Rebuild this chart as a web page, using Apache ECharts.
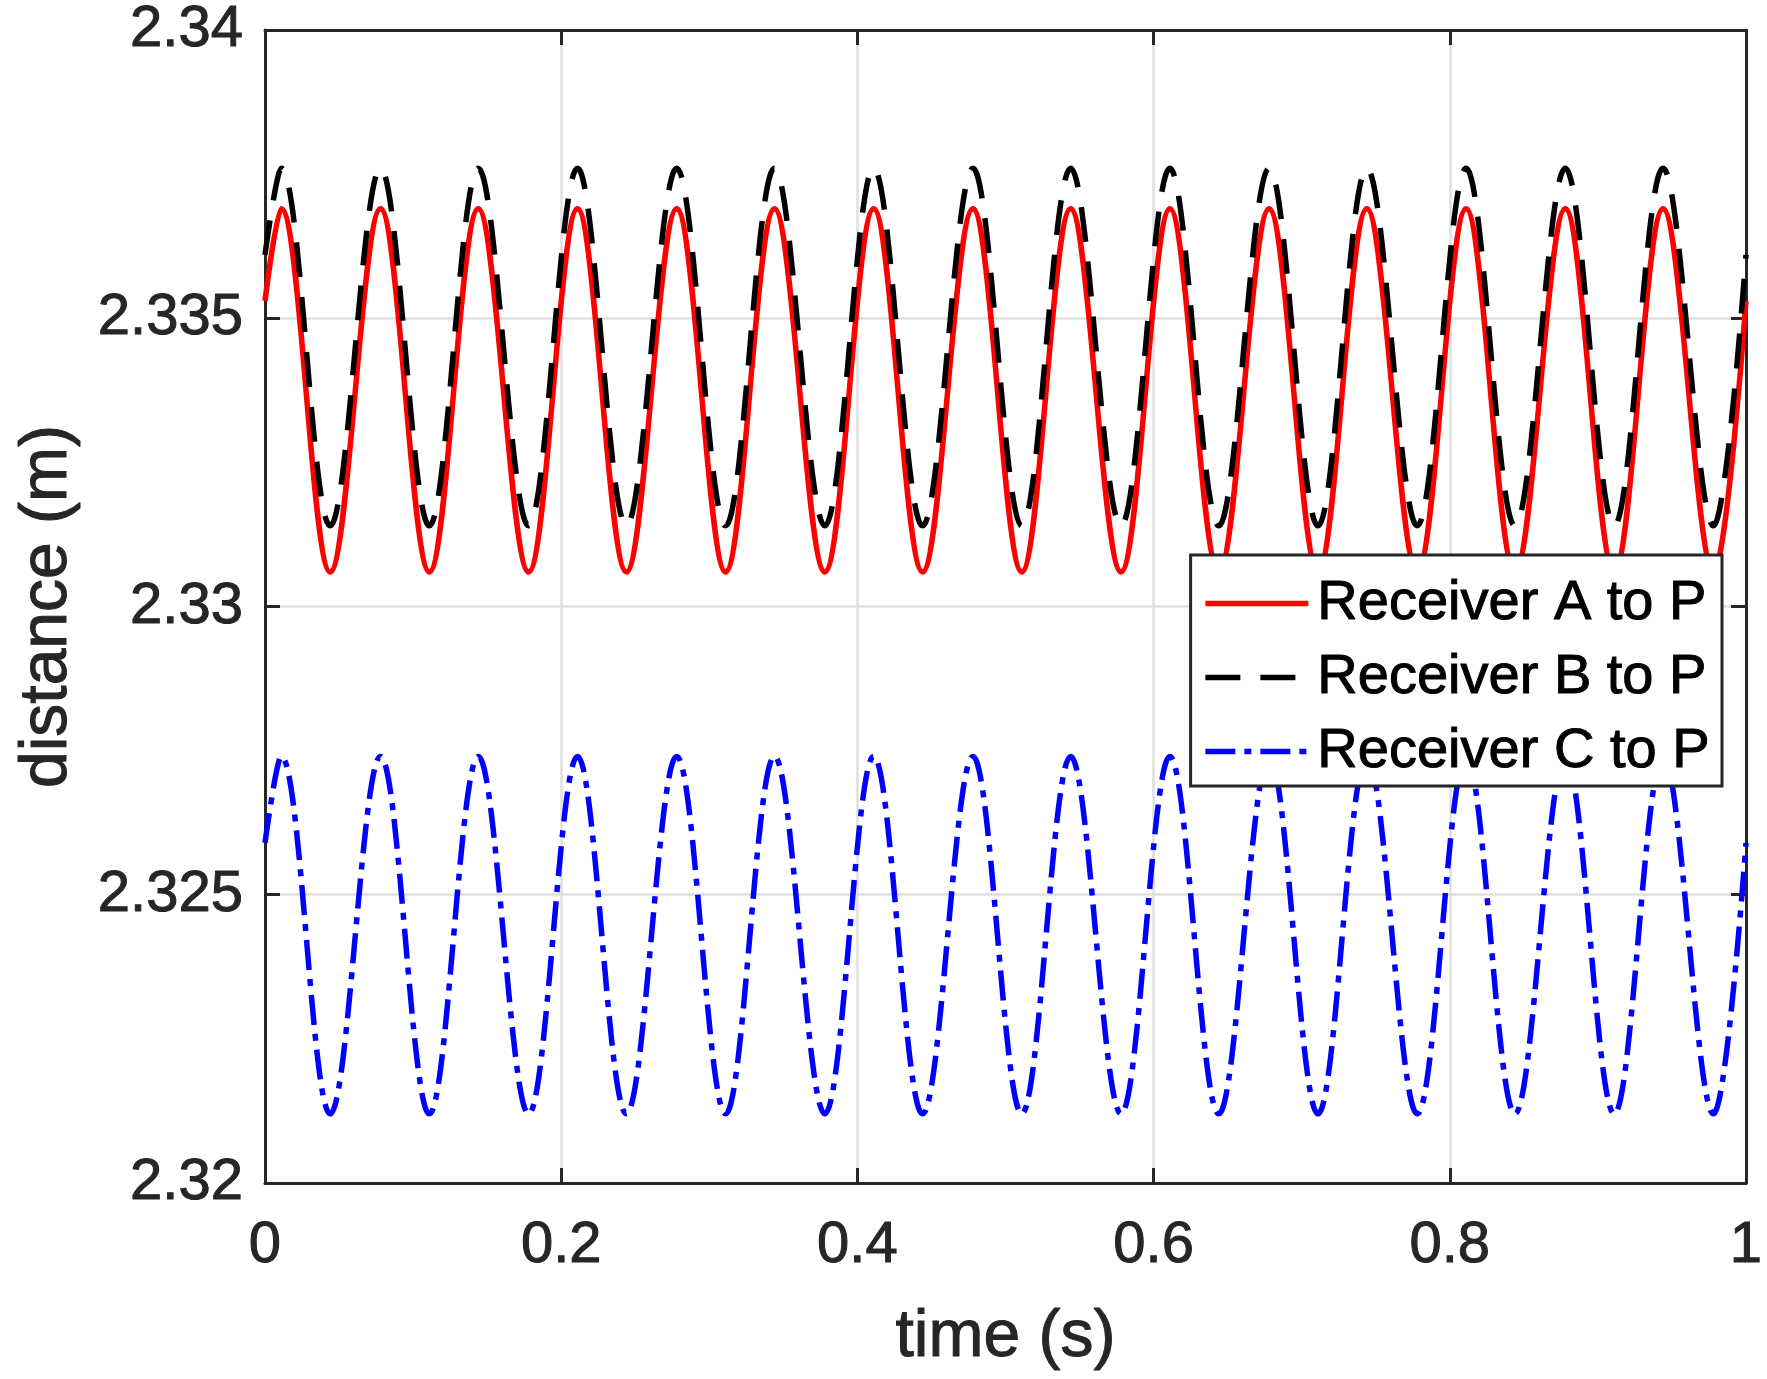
<!DOCTYPE html>
<html>
<head>
<meta charset="utf-8">
<script src="https://cdn.jsdelivr.net/npm/echarts@6/dist/echarts.min.js"></script>
<style>
  html, body { margin: 0; padding: 0; background: #fff; }
  #view2Data { width: 1767px; height: 1379px; }
</style>
</head>
<body>
<div id="view2Data"></div>
<script>
// time (s) of the start point, each crest / trough, and the end point
const timeS = [0, 0.011, 0.044, 0.078, 0.111, 0.144, 0.178, 0.211, 0.244, 0.278, 0.311,
  0.344, 0.378, 0.411, 0.444, 0.478, 0.511, 0.544, 0.578, 0.611, 0.644,
  0.678, 0.711, 0.744, 0.778, 0.811, 0.844, 0.878, 0.911, 0.944, 0.978, 1]

// distance (m) read at those times
const distA = [2.3353, 2.3369, 2.3306, 2.3369, 2.3306, 2.3369, 2.3306, 2.3369, 2.3306, 2.3369, 2.3306,
  2.3369, 2.3306, 2.3369, 2.3306, 2.3369, 2.3306, 2.3369, 2.3306, 2.3369, 2.3306,
  2.3369, 2.3306, 2.3369, 2.3306, 2.3369, 2.3306, 2.3369, 2.3306, 2.3369, 2.3306, 2.3353]
const distB = [2.3361, 2.3376, 2.3314, 2.3376, 2.3314, 2.3376, 2.3314, 2.3376, 2.3314, 2.3376, 2.3314,
  2.3376, 2.3314, 2.3376, 2.3314, 2.3376, 2.3314, 2.3376, 2.3314, 2.3376, 2.3314,
  2.3376, 2.3314, 2.3376, 2.3314, 2.3376, 2.3314, 2.3376, 2.3314, 2.3376, 2.3314, 2.3361]
const distC = [2.3259, 2.3274, 2.3212, 2.3274, 2.3212, 2.3274, 2.3212, 2.3274, 2.3212, 2.3274, 2.3212,
  2.3274, 2.3212, 2.3274, 2.3212, 2.3274, 2.3212, 2.3274, 2.3212, 2.3274, 2.3212,
  2.3274, 2.3212, 2.3274, 2.3212, 2.3274, 2.3212, 2.3274, 2.3212, 2.3274, 2.3212, 2.3259]

const seriesNames = ["Receiver A to P", "Receiver B to P", "Receiver C to P"]

const xTicks = { min: 0, max: 1, interval: 0.2 }
const yTicks = { min: 2.32, max: 2.34, interval: 0.005 }

const FONT = "Liberation Sans, Arial, sans-serif"
const INK = "#262626"

let myChart = echarts.init(document.getElementById("view2Data"), null, { renderer: "canvas" })

const pairs = (vals) => timeS.map((t, i) => [t, vals[i]])

// matlab-ish heavy text: thin outline in the text colour
const heavy = (size, color) => ({
  fontFamily: FONT,
  fontSize: size,
  color: color,
  textBorderColor: color,
  textBorderWidth: 1,
})

const boxAxis = {
  axisLine: { show: true, onZero: false, lineStyle: { color: INK, width: 3 } },
  axisTick: { show: true, inside: true, length: 15, lineStyle: { color: INK, width: 3 } },
}

myChart.setOption({
  animation: false,
  backgroundColor: "#fff",
  grid: {
    left: 265,
    right: 21,
    top: 30,
    bottom: 196,
    containLabel: false,
  },
  legend: {
    data: seriesNames,
    orient: "vertical",
    right: 45,
    top: 555,
    padding: [20, 12, 6, 12],
    itemWidth: 103,
    itemHeight: 20,
    itemGap: 17,
    backgroundColor: "#fff",
    borderColor: INK,
    borderWidth: 3,
    borderRadius: 0,
    itemStyle: { opacity: 0 },
    lineStyle: { width: 5.5 },
    textStyle: {
      ...heavy(56, "#000"),
      lineHeight: 56,
      padding: [0, 0, 0, 4],
    },
  },
  xAxis: [
    {
      type: "value",
      ...xTicks,
      ...boxAxis,
      position: "bottom",
      name: "time (s)",
      nameLocation: "middle",
      nameGap: 122,
      nameTextStyle: heavy(66, INK),
      splitLine: { show: true, lineStyle: { color: "#dfdfdf", width: 2.5 } },
      axisLabel: {
        ...heavy(58, INK),
        margin: 34,
        formatter: (v) => String(+v.toFixed(1)),
      },
    },
    {
      type: "value",
      ...xTicks,
      ...boxAxis,
      position: "top",
      splitLine: { show: false },
      axisLabel: { show: false },
    },
  ],
  yAxis: [
    {
      type: "value",
      ...yTicks,
      ...boxAxis,
      position: "left",
      name: "distance (m)",
      nameLocation: "middle",
      nameGap: 184,
      nameTextStyle: heavy(66, INK),
      splitLine: { show: true, lineStyle: { color: "#dfdfdf", width: 2.5 } },
      axisLabel: {
        ...heavy(58, INK),
        margin: 22,
        formatter: (v) => String(+v.toFixed(3)),
      },
    },
    {
      type: "value",
      ...yTicks,
      ...boxAxis,
      position: "right",
      splitLine: { show: false },
      axisLabel: { show: false },
    },
  ],
  series: [
    {
      name: seriesNames[0],
      type: "line",
      data: pairs(distA),
      smooth: 0.36,
      symbol: "none",
      lineStyle: { color: "#ff0000", width: 5.5, type: "solid" },
      itemStyle: { color: "#ff0000" },
    },
    {
      name: seriesNames[1],
      type: "line",
      data: pairs(distB),
      smooth: 0.36,
      symbol: "none",
      lineStyle: { color: "#000000", width: 5.5, type: [35, 20] },
      itemStyle: { color: "#000000" },
    },
    {
      name: seriesNames[2],
      type: "line",
      data: pairs(distC),
      smooth: 0.36,
      symbol: "none",
      lineStyle: { color: "#0000ff", width: 5.5, type: [30, 9, 7, 9] },
      itemStyle: { color: "#0000ff" },
    },
  ],
})

window.addEventListener("resize", () => {
  myChart.resize()
})
</script>
</body>
</html>
